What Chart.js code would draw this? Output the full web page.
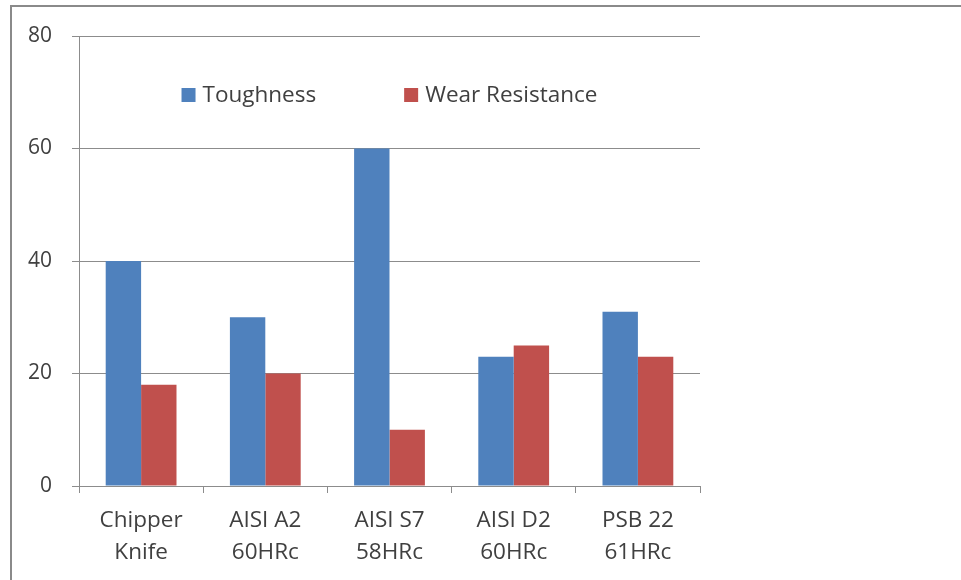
<!DOCTYPE html>
<html>
<head>
<meta charset="utf-8">
<script src="https://cdn.jsdelivr.net/npm/chart.js@4/dist/chart.umd.min.js"></script>
<style>
  html, body { margin: 0; padding: 0; background: #fff; overflow: hidden; }
  #frame { position: absolute; left: 10px; top: 5px; width: 1000px; height: 640px;
           border-left: 2px solid #8a8a8a; border-top: 2px solid #8a8a8a; }
  #chart { position: absolute; left: 0; top: 0; }
</style>
</head>
<body>
<div id="frame"></div>
<canvas id="chart" width="961" height="580"></canvas>
<script>
// Data
const categories = [['Chipper', 'Knife'], ['AISI A2', '60HRc'], ['AISI S7', '58HRc'], ['AISI D2', '60HRc'], ['PSB 22', '61HRc']];
const toughness = [40, 30, 60, 23, 31];
const wearResistance = [18, 20, 10, 25, 23];
const yTicks = [0, 20, 40, 60, 80];

const FONT = '"Open Sans", Lato, sans-serif';
const TEXT = '#404040';
const GRID = '#8c8c8c';

// legend drawn inside the plot, like the original
const insideLegend = {
  id: 'insideLegend',
  afterDraw(chart) {
    const ctx = chart.ctx;
    const area = chart.chartArea;
    ctx.save();
    ctx.font = '22.5px ' + FONT;
    ctx.textBaseline = 'middle';
    const items = chart.data.datasets.map(ds => ({ text: ds.label, color: ds.backgroundColor, w: ctx.measureText(ds.label).width }));
    const box = 14, gap = 7, between = 88;
    let total = 0;
    items.forEach((it, i) => { total += box + gap + it.w + (i ? between : 0); });
    let x = (area.left + area.right) / 2 - total / 2;
    const y = area.top + 59;
    items.forEach(it => {
      ctx.fillStyle = it.color;
      ctx.fillRect(x, y - box / 2, box, box);
      ctx.fillStyle = TEXT;
      ctx.fillText(it.text, x + box + gap, y + 1);
      x += box + gap + it.w + between;
    });
    ctx.restore();
  }
};

const ctx = document.getElementById('chart').getContext('2d');
new Chart(ctx, {
  type: 'bar',
  data: {
    labels: categories,
    datasets: [
      { label: 'Toughness', data: toughness, backgroundColor: '#4F81BD' },
      { label: 'Wear Resistance', data: wearResistance, backgroundColor: '#C0504D' }
    ]
  },
  options: {
    responsive: false,
    animation: false,
    devicePixelRatio: 1,
    layout: { padding: { top: 36, right: 261, left: 0, bottom: 0 } },
    datasets: { bar: { barPercentage: 1, categoryPercentage: 0.57 } },
    plugins: { legend: { display: false }, tooltip: { enabled: false } },
    scales: {
      x: {
        grid: { offset: true, drawOnChartArea: false, color: GRID, tickLength: 7 },
        border: { color: GRID },
        ticks: { color: TEXT, padding: 12, maxRotation: 0, font: { family: FONT, size: 22.5, lineHeight: 1.42 } },
        afterFit(scale) { scale.height = 94; }
      },
      y: {
        min: 0, max: 80,
        afterBuildTicks(scale) { scale.ticks = yTicks.map(v => ({ value: v })); },
        grid: { color: GRID, tickLength: 7 },
        border: { color: GRID },
        ticks: { color: TEXT, padding: 20, font: { family: FONT, size: 21 } },
        afterFit(scale) { scale.width = 79; }
      }
    }
  },
  plugins: [insideLegend]
});
</script>
</body>
</html>
